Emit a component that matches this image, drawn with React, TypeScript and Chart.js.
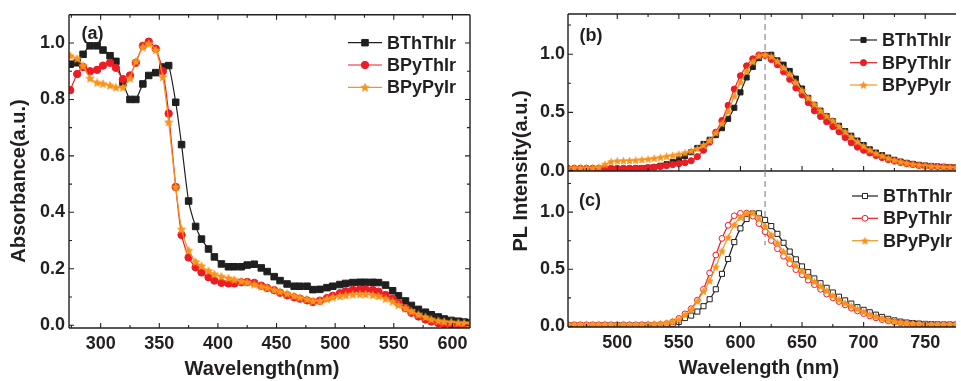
import React, { useEffect, useRef } from 'react';
import { Chart, registerables } from 'chart.js';

Chart.register(...registerables);

// ---------- DATA ----------
// Panel (a): absorption
const absWavelength = [274, 280, 285, 291, 297, 302, 308, 313, 319, 325, 330, 336, 341, 347, 353, 358, 364, 369, 375, 381, 386, 392, 397, 403, 409, 414, 420, 425, 431, 437, 442, 448, 453, 459, 465, 470, 476, 481, 487, 493, 498, 504, 509, 515, 521, 526, 532, 537, 543, 549, 554, 560, 565, 571, 577, 582, 588, 593, 599, 605, 610, 615];
const absBThThIr = [0.925, 0.93, 0.96, 0.99, 0.99, 0.975, 0.955, 0.935, 0.86, 0.80, 0.80, 0.855, 0.885, 0.895, 0.915, 0.92, 0.79, 0.64, 0.44, 0.35, 0.305, 0.27, 0.242, 0.217, 0.207, 0.207, 0.207, 0.213, 0.216, 0.203, 0.19, 0.172, 0.158, 0.146, 0.138, 0.138, 0.138, 0.126, 0.127, 0.133, 0.138, 0.144, 0.148, 0.151, 0.152, 0.152, 0.152, 0.151, 0.142, 0.122, 0.104, 0.086, 0.07, 0.056, 0.046, 0.037, 0.029, 0.022, 0.017, 0.014, 0.011, 0.009];
const absBPyThIr = [0.833, 0.89, 0.915, 0.9, 0.905, 0.92, 0.93, 0.912, 0.872, 0.885, 0.93, 0.99, 1.005, 0.98, 0.9, 0.75, 0.49, 0.32, 0.24, 0.205, 0.187, 0.17, 0.158, 0.15, 0.148, 0.148, 0.152, 0.153, 0.15, 0.14, 0.132, 0.124, 0.115, 0.106, 0.099, 0.094, 0.088, 0.082, 0.087, 0.096, 0.104, 0.113, 0.12, 0.125, 0.127, 0.127, 0.125, 0.119, 0.107, 0.094, 0.078, 0.06, 0.044, 0.031, 0.02, 0.013, 0.007, 0.003, 0.001, 0, 0, 0];
const absBPyPyIr = [0.955, 0.945, 0.92, 0.875, 0.86, 0.856, 0.85, 0.843, 0.843, 0.875, 0.935, 0.985, 0.998, 0.975, 0.88, 0.72, 0.49, 0.34, 0.265, 0.225, 0.21, 0.193, 0.181, 0.173, 0.167, 0.162, 0.156, 0.152, 0.145, 0.138, 0.133, 0.125, 0.119, 0.112, 0.104, 0.098, 0.092, 0.086, 0.086, 0.093, 0.099, 0.103, 0.106, 0.109, 0.11, 0.11, 0.107, 0.103, 0.094, 0.084, 0.072, 0.06, 0.049, 0.038, 0.029, 0.021, 0.016, 0.013, 0.011, 0.009, 0.008, 0.006];

// Panels (b) and (c): photoluminescence
const plWavelength = [460, 465, 470, 475, 480, 485, 490, 495, 500, 505, 510, 515, 520, 525, 530, 535, 540, 545, 550, 555, 560, 565, 570, 575, 580, 585, 590, 595, 600, 605, 610, 615, 620, 625, 630, 635, 640, 645, 650, 655, 660, 665, 670, 675, 680, 685, 690, 695, 700, 705, 710, 715, 720, 725, 730, 735, 740, 745, 750, 755, 760, 765, 770, 775];
// (b)
const plbBThThIr = [0.015, 0.015, 0.015, 0.015, 0.015, 0.015, 0.015, 0.015, 0.016, 0.017, 0.018, 0.02, 0.022, 0.026, 0.03, 0.042, 0.055, 0.075, 0.1, 0.125, 0.158, 0.195, 0.229, 0.265, 0.305, 0.365, 0.445, 0.54, 0.672, 0.8, 0.89, 0.966, 0.993, 0.995, 0.947, 0.91, 0.856, 0.79, 0.705, 0.625, 0.565, 0.515, 0.468, 0.425, 0.385, 0.34, 0.3, 0.258, 0.22, 0.183, 0.155, 0.133, 0.112, 0.093, 0.078, 0.067, 0.058, 0.05, 0.044, 0.04, 0.036, 0.033, 0.03, 0.028];
const plbBPyThIr = [0.02, 0.02, 0.02, 0.02, 0.02, 0.02, 0.02, 0.02, 0.02, 0.02, 0.02, 0.02, 0.02, 0.025, 0.03, 0.035, 0.043, 0.052, 0.06, 0.068, 0.085, 0.12, 0.175, 0.245, 0.33, 0.43, 0.56, 0.7, 0.815, 0.9, 0.96, 0.993, 0.99, 0.955, 0.91, 0.85, 0.785, 0.71, 0.65, 0.585, 0.515, 0.465, 0.42, 0.378, 0.335, 0.285, 0.24, 0.202, 0.175, 0.152, 0.13, 0.112, 0.095, 0.082, 0.07, 0.06, 0.052, 0.045, 0.04, 0.036, 0.033, 0.03, 0.028, 0.026];
const plbBPyPyIr = [0.025, 0.025, 0.025, 0.025, 0.025, 0.03, 0.055, 0.078, 0.085, 0.086, 0.087, 0.09, 0.095, 0.1, 0.107, 0.115, 0.124, 0.132, 0.142, 0.154, 0.17, 0.19, 0.22, 0.26, 0.325, 0.405, 0.51, 0.64, 0.76, 0.855, 0.935, 0.985, 0.995, 0.982, 0.94, 0.885, 0.83, 0.76, 0.69, 0.625, 0.57, 0.515, 0.47, 0.43, 0.38, 0.335, 0.292, 0.25, 0.212, 0.178, 0.15, 0.128, 0.108, 0.09, 0.076, 0.065, 0.056, 0.048, 0.043, 0.039, 0.035, 0.032, 0.029, 0.027];
// (c)
const plcBThThIr = [0.01, 0.01, 0.01, 0.01, 0.01, 0.01, 0.01, 0.01, 0.01, 0.01, 0.01, 0.01, 0.01, 0.01, 0.01, 0.01, 0.012, 0.02, 0.04, 0.073, 0.095, 0.13, 0.177, 0.238, 0.325, 0.46, 0.59, 0.738, 0.858, 0.94, 0.988, 0.99, 0.932, 0.878, 0.81, 0.732, 0.655, 0.587, 0.525, 0.475, 0.42, 0.378, 0.338, 0.297, 0.26, 0.228, 0.2, 0.168, 0.145, 0.124, 0.103, 0.083, 0.066, 0.053, 0.042, 0.034, 0.029, 0.025, 0.022, 0.02, 0.018, 0.017, 0.016, 0.015];
const plcBPyThIr = [0.015, 0.015, 0.015, 0.015, 0.015, 0.015, 0.015, 0.015, 0.015, 0.015, 0.015, 0.015, 0.015, 0.015, 0.015, 0.018, 0.025, 0.04, 0.07, 0.11, 0.155, 0.23, 0.325, 0.468, 0.625, 0.77, 0.885, 0.968, 0.99, 0.992, 0.965, 0.9, 0.828, 0.752, 0.68, 0.615, 0.55, 0.497, 0.453, 0.405, 0.365, 0.325, 0.283, 0.25, 0.218, 0.188, 0.16, 0.135, 0.112, 0.092, 0.075, 0.06, 0.048, 0.038, 0.031, 0.026, 0.022, 0.02, 0.018, 0.016, 0.016, 0.016, 0.016, 0.016];
const plcBPyPyIr = [0.015, 0.015, 0.015, 0.015, 0.015, 0.015, 0.015, 0.015, 0.015, 0.015, 0.015, 0.015, 0.015, 0.02, 0.022, 0.025, 0.03, 0.045, 0.062, 0.103, 0.148, 0.222, 0.308, 0.4, 0.52, 0.66, 0.78, 0.89, 0.955, 0.99, 0.992, 0.948, 0.878, 0.802, 0.73, 0.655, 0.59, 0.532, 0.483, 0.437, 0.393, 0.352, 0.312, 0.27, 0.236, 0.205, 0.178, 0.152, 0.128, 0.106, 0.087, 0.07, 0.056, 0.045, 0.036, 0.03, 0.025, 0.022, 0.02, 0.018, 0.018, 0.018, 0.018, 0.018];

const seriesNames = ['BThThIr', 'BPyThIr', 'BPyPyIr'];

// ticks
const absXTicks = [300, 350, 400, 450, 500, 550, 600];
const absXMinor = [275, 325, 375, 425, 475, 525, 575];
const absYTicks = [0, 0.2, 0.4, 0.6, 0.8, 1.0];
const absYMinor = [0.1, 0.3, 0.5, 0.7, 0.9];
const plXTicks = [500, 550, 600, 650, 700, 750];
const plXMinor = [475, 525, 575, 625, 675, 725];
const plYTicks = [0, 0.5, 1.0];
const plYMinor = [0.25, 0.75, 1.25];

// ---------- STYLE ----------
const FONT = "'Liberation Sans', Arial, Helvetica, sans-serif";
const INK = '#231f20';
const BLACK = '#1f1f1f';
const RED = '#ec1c24';
const ORANGE = '#f7941d';

function makeStar(d: number, color: string): HTMLCanvasElement {
  const c = document.createElement('canvas');
  c.width = d;
  c.height = d;
  const ctx = c.getContext('2d')!;
  const cx = d / 2, cy = d / 2 + 0.4, R = d / 2, r = R * 0.48;
  ctx.beginPath();
  for (let i = 0; i < 10; i++) {
    const a = -Math.PI / 2 + (i * Math.PI) / 5;
    const rr = i % 2 === 0 ? R : r;
    const px = cx + rr * Math.cos(a);
    const py = cy + rr * Math.sin(a);
    if (i === 0) ctx.moveTo(px, py); else ctx.lineTo(px, py);
  }
  ctx.closePath();
  ctx.fillStyle = color;
  ctx.fill();
  return c;
}

function drawMarker(ctx: CanvasRenderingContext2D, ds: any, x: number, y: number) {
  const style = ds.pointStyle;
  const r = ds.pointRadius;
  if (typeof style !== 'string') {
    ctx.drawImage(style, x - style.width / 2, y - style.height / 2);
    return;
  }
  ctx.save();
  ctx.fillStyle = ds.pointBackgroundColor;
  ctx.strokeStyle = ds.pointBorderColor;
  ctx.lineWidth = ds.pointBorderWidth;
  ctx.beginPath();
  if (style === 'rect') {
    const h = Math.SQRT1_2 * r;
    ctx.rect(x - h, y - h, 2 * h, 2 * h);
  } else {
    ctx.arc(x, y, r, 0, Math.PI * 2);
  }
  ctx.fill();
  ctx.stroke();
  ctx.restore();
}

interface TextSpec { text: string; x: number; y: number; size: number; rotate?: boolean }
interface Decor {
  frame: { top: boolean; right: boolean; bottom: boolean; left: boolean };
  xMajor: number[]; xMinor: number[]; xSides: string[];
  yMajor: number[]; yMinor: number[]; ySides: string[];
  legend: { rows: number[]; x0: number; x1: number; textX: number };
  texts: TextSpec[];
  dashed?: { x: number; yTo?: number };
}

function decorPlugin(d: Decor) {
  return {
    id: 'decor',
    beforeDatasetsDraw(chart: any) {
      if (!d.dashed) return;
      const { ctx, chartArea, scales } = chart;
      const x = scales.x.getPixelForValue(d.dashed.x);
      const y1 = d.dashed.yTo === undefined ? chartArea.bottom : scales.y.getPixelForValue(d.dashed.yTo);
      ctx.save();
      ctx.strokeStyle = '#8c8c8c';
      ctx.lineWidth = 1.2;
      ctx.setLineDash([6, 4]);
      ctx.beginPath();
      ctx.moveTo(x, chartArea.top);
      ctx.lineTo(x, y1);
      ctx.stroke();
      ctx.restore();
    },
    afterDraw(chart: any) {
      const { ctx, chartArea: a, scales } = chart;
      ctx.save();
      ctx.strokeStyle = INK;
      ctx.lineWidth = 1.4;
      ctx.beginPath();
      if (d.frame.top) { ctx.moveTo(a.left, a.top); ctx.lineTo(a.right, a.top); }
      if (d.frame.bottom) { ctx.moveTo(a.left, a.bottom); ctx.lineTo(a.right, a.bottom); }
      if (d.frame.left) { ctx.moveTo(a.left, a.top); ctx.lineTo(a.left, a.bottom); }
      if (d.frame.right) { ctx.moveTo(a.right, a.top); ctx.lineTo(a.right, a.bottom); }
      ctx.stroke();
      // inward tick marks
      ctx.lineWidth = 1.1;
      ctx.beginPath();
      const xt = (vals: number[], len: number) => {
        vals.forEach((v) => {
          const px = scales.x.getPixelForValue(v);
          if (d.xSides.includes('bottom')) { ctx.moveTo(px, a.bottom); ctx.lineTo(px, a.bottom - len); }
          if (d.xSides.includes('top')) { ctx.moveTo(px, a.top); ctx.lineTo(px, a.top + len); }
        });
      };
      const yt = (vals: number[], len: number) => {
        vals.forEach((v) => {
          const py = scales.y.getPixelForValue(v);
          if (d.ySides.includes('left')) { ctx.moveTo(a.left, py); ctx.lineTo(a.left + len, py); }
          if (d.ySides.includes('right')) { ctx.moveTo(a.right, py); ctx.lineTo(a.right - len, py); }
        });
      };
      xt(d.xMajor, 5); xt(d.xMinor, 3);
      yt(d.yMajor, 5); yt(d.yMinor, 3);
      ctx.stroke();
      // legend
      const dss = chart.data.datasets;
      d.legend.rows.forEach((ry, i) => {
        const ds = dss[i];
        ctx.strokeStyle = ds.borderColor;
        ctx.lineWidth = ds.borderWidth;
        ctx.beginPath();
        ctx.moveTo(d.legend.x0, ry);
        ctx.lineTo(d.legend.x1, ry);
        ctx.stroke();
        drawMarker(ctx, ds, (d.legend.x0 + d.legend.x1) / 2, ry);
        ctx.fillStyle = INK;
        ctx.font = `bold 18px ${FONT}`;
        ctx.textAlign = 'left';
        ctx.textBaseline = 'middle';
        ctx.fillText(ds.label, d.legend.textX, ry + 1);
      });
      // texts
      d.texts.forEach((t) => {
        ctx.save();
        ctx.fillStyle = INK;
        ctx.font = `bold ${t.size}px ${FONT}`;
        ctx.textAlign = 'center';
        ctx.textBaseline = 'middle';
        ctx.translate(t.x, t.y);
        if (t.rotate) ctx.rotate(-Math.PI / 2);
        ctx.fillText(t.text, 0, 0);
        ctx.restore();
      });
      ctx.restore();
    },
  };
}

function series(xs: number[], ys: number[], label: string, color: string, style: any, radius: number, open: boolean, order: number) {
  return {
    label,
    data: xs.map((x, i) => ({ x, y: ys[i] })),
    borderColor: color,
    backgroundColor: color,
    borderWidth: 1.2,
    pointStyle: style,
    pointRadius: radius,
    pointBackgroundColor: open ? '#ffffff' : color,
    pointBorderColor: color,
    pointBorderWidth: 1,
    tension: 0.2,
    order,
  };
}

interface PanelSpec {
  xMin: number; xMax: number; yMin: number; yMax: number;
  xTicks: number[]; yTicks: number[];
  showXLabels: boolean;
  padding: { top: number; right: number; bottom: number; left: number };
  yWidth: number; xHeight: number;
  xLabelPad: number; yLabelPad: number;
  datasets: any[];
  decor: Decor;
}

function buildConfig(p: PanelSpec): any {
  const tickFont = { family: FONT, size: 18, weight: 'bold' as const };
  return {
    type: 'line',
    data: { datasets: p.datasets },
    options: {
      animation: false,
      responsive: false,
      events: [],
      layout: { padding: p.padding },
      plugins: { legend: { display: false }, tooltip: { enabled: false }, title: { display: false } },
      scales: {
        x: {
          type: 'linear',
          min: p.xMin,
          max: p.xMax,
          afterBuildTicks: (s: any) => { s.ticks = p.xTicks.map((value) => ({ value })); },
          afterFit: (s: any) => { s.height = p.xHeight; },
          grid: { display: false, drawTicks: false, tickLength: 0 },
          border: { display: false },
          ticks: {
            display: p.showXLabels,
            autoSkip: false,
            maxRotation: 0,
            padding: p.xLabelPad,
            color: INK,
            font: tickFont,
            callback: (v: any) => String(v),
          },
        },
        y: {
          type: 'linear',
          min: p.yMin,
          max: p.yMax,
          afterBuildTicks: (s: any) => { s.ticks = p.yTicks.map((value) => ({ value })); },
          afterFit: (s: any) => { s.width = p.yWidth; },
          grid: { display: false, drawTicks: false, tickLength: 0 },
          border: { display: false },
          ticks: {
            autoSkip: false,
            padding: p.yLabelPad,
            color: INK,
            font: tickFont,
            callback: (v: any) => Number(v).toFixed(1),
          },
        },
      },
    },
    plugins: [decorPlugin(p.decor)],
  };
}

export default function App() {
  const refA = useRef<HTMLCanvasElement>(null);
  const refB = useRef<HTMLCanvasElement>(null);
  const refC = useRef<HTMLCanvasElement>(null);

  useEffect(() => {
    const starA = makeStar(10, ORANGE);
    const starB = makeStar(9, ORANGE);

    const cfgA = buildConfig({
      xMin: 273, xMax: 615, yMin: -0.01, yMax: 1.1,
      xTicks: absXTicks, yTicks: absYTicks, showXLabels: true,
      padding: { top: 14, right: 10, bottom: 0, left: 0 },
      yWidth: 69, xHeight: 53, xLabelPad: 5, yLabelPad: 4,
      datasets: [
        series(absWavelength, absBThThIr, seriesNames[0], BLACK, 'rect', 4.6, false, 2),
        series(absWavelength, absBPyThIr, seriesNames[1], RED, 'circle', 3.7, false, 1),
        series(absWavelength, absBPyPyIr, seriesNames[2], ORANGE, starA, 4, false, 0),
      ],
      decor: {
        frame: { top: true, right: true, bottom: true, left: true },
        xMajor: absXTicks, xMinor: absXMinor, xSides: ['bottom', 'top'],
        yMajor: absYTicks, yMinor: absYMinor, ySides: ['left', 'right'],
        legend: { rows: [42.7, 65, 87.3], x0: 348, x1: 382, textX: 387 },
        texts: [
          { text: '(a)', x: 92.5, y: 34, size: 18 },
          { text: 'Absorbance(a.u.)', x: 19, y: 181, size: 20, rotate: true },
          { text: 'Wavelength(nm)', x: 262, y: 369, size: 20 },
        ],
      },
    });

    const cfgB = buildConfig({
      xMin: 460, xMax: 775, yMin: -0.003, yMax: 1.345,
      xTicks: plXTicks, yTicks: plYTicks, showXLabels: false,
      padding: { top: 14, right: 0, bottom: 0, left: 0 },
      yWidth: 88, xHeight: 210, xLabelPad: 4, yLabelPad: 3,
      datasets: [
        series(plWavelength, plbBThThIr, seriesNames[0], BLACK, 'rect', 3.6, false, 2),
        series(plWavelength, plbBPyThIr, seriesNames[1], RED, 'circle', 3.1, false, 1),
        series(plWavelength, plbBPyPyIr, seriesNames[2], ORANGE, starB, 4, false, 0),
      ],
      decor: {
        frame: { top: true, right: false, bottom: true, left: true },
        xMajor: plXTicks, xMinor: plXMinor, xSides: ['bottom', 'top'],
        yMajor: plYTicks, yMinor: plYMinor, ySides: ['left'],
        legend: { rows: [40, 62.7, 85], x0: 370, x1: 397, textX: 402 },
        texts: [{ text: '(b)', x: 111, y: 36.5, size: 18 }],
        dashed: { x: 620 },
      },
    });

    const cfgC = buildConfig({
      xMin: 460, xMax: 775, yMin: -0.005, yMax: 1.36,
      xTicks: plXTicks, yTicks: plYTicks, showXLabels: true,
      padding: { top: 171, right: 0, bottom: 0, left: 0 },
      yWidth: 88, xHeight: 54, xLabelPad: 5, yLabelPad: 3,
      datasets: [
        series(plWavelength, plcBThThIr, seriesNames[0], BLACK, 'rect', 3.6, true, 2),
        series(plWavelength, plcBPyThIr, seriesNames[1], RED, 'circle', 2.9, true, 1),
        series(plWavelength, plcBPyPyIr, seriesNames[2], ORANGE, starB, 4, false, 0),
      ],
      decor: {
        frame: { top: false, right: false, bottom: true, left: true },
        xMajor: plXTicks, xMinor: plXMinor, xSides: ['bottom'],
        yMajor: plYTicks, yMinor: plYMinor, ySides: ['left'],
        legend: { rows: [196, 218.3, 240.7], x0: 372, x1: 398, textX: 403 },
        texts: [
          { text: '(c)', x: 110, y: 201, size: 18 },
          { text: 'Wavelength (nm)', x: 279, y: 368, size: 20 },
          { text: 'PL Intensity(a.u.)', x: 41, y: 171, size: 20, rotate: true },
        ],
        dashed: { x: 620, yTo: 0.71 },
      },
    });

    const a = new Chart(refA.current!, cfgA);
    const b = new Chart(refB.current!, cfgB);
    const c = new Chart(refC.current!, cfgC);
    return () => { a.destroy(); b.destroy(); c.destroy(); };
  }, []);

  const abs: React.CSSProperties = { position: 'absolute', top: 0, display: 'block' };
  return (
    <div style={{ position: 'absolute', left: 0, top: 0, width: 961, height: 381, background: '#ffffff', overflow: 'hidden' }}>
      <canvas ref={refA} width={480} height={381} style={{ ...abs, left: 0 }} />
      <canvas ref={refB} width={481} height={381} style={{ ...abs, left: 480 }} />
      <canvas ref={refC} width={481} height={381} style={{ ...abs, left: 480 }} />
    </div>
  );
}
